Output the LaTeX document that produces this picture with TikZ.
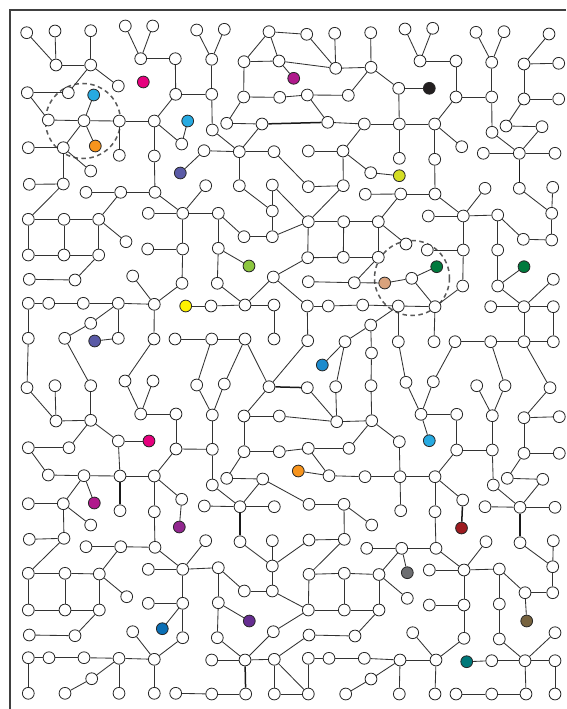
\documentclass[tikz,border=0pt]{standalone}
\definecolor{edgec}{HTML}{333333}
\definecolor{pinkc}{HTML}{E6007E}
\definecolor{magc}{HTML}{B0198C}
\definecolor{skyc}{HTML}{27AAE1}
\definecolor{bluec}{HTML}{1C8BCD}
\definecolor{dbluec}{HTML}{0B6FB5}
\definecolor{orangec}{HTML}{F7941D}
\definecolor{slatec}{HTML}{5A5AA6}
\definecolor{purpc}{HTML}{92278F}
\definecolor{dpurpc}{HTML}{662D91}
\definecolor{blackc}{HTML}{231F20}
\definecolor{ygc}{HTML}{D4DE24}
\definecolor{greenc}{HTML}{8CC63F}
\definecolor{yellowc}{HTML}{FFF200}
\definecolor{dgreenc}{HTML}{007A3D}
\definecolor{tanc}{HTML}{D9A27C}
\definecolor{dredc}{HTML}{9E1B20}
\definecolor{grayc}{HTML}{6D6E71}
\definecolor{brownc}{HTML}{77633F}
\definecolor{tealc}{HTML}{00797A}
\tikzset{
  nd/.style={circle,draw=black!85,line width=0.8pt,fill=white,minimum size=11.8pt,inner sep=0pt},
  ed/.style={draw=edgec,line width=0.85pt},
  thk/.style={draw=black!90,line width=1.5pt},
  ring/.style={draw=black!65,line width=1.5pt,dash pattern=on 4.5pt off 3.5pt},
  framel/.style={draw=black!75,line width=1.1pt}
}
\begin{document}
\begin{tikzpicture}[x=1pt,y=-1pt]
\useasboundingbox (0,0) rectangle (566,709);
\fill[white] (0,0) rectangle (566,709);
\draw[framel] (566,10) -- (10,10) -- (10,709);
\draw[ring] (83,121) circle[radius=37.5];
\draw[ring] (412,278) circle[radius=37.5];
% upper nodes
\foreach \n/\x/\y in {u1/26.7/32.7, u2/55/31, u3/90.7/30.7, u4/125.3/26, u5/152.7/26, u6/196.7/30, u7/224.3/29.3, u8/269/31.7, u9/306.7/34.3, u10/334.7/33.3, u11/370.7/32.7, u12/405/29, u13/432.7/28.3, u14/476/32.3, u15/504/31.7, u16/549/34,
u17/56/65, u18/90.7/65, u19/140.7/58.7, u20/175.3/58.7, u21/211.7/59.3, u22/244/61.7, u23/279/61, u24/335.7/68.3, u25/371/67.3, u26/420/61, u27/456/61, u28/491.7/62.3, u29/524/64, u30/558.7/63.3,
u31/27.3/92.7, u32/68.3/92.7, u33/118.3/86, u34/175.7/94.3, u35/211.7/94.3, u36/243.7/97, u37/279.7/97.3, u38/307.3/95, u39/348.3/95.3, u40/398.7/88.3, u41/456/97, u42/491.7/97, u43/524/99, u44/558.7/99,
u45/48.3/120, u46/84/120.7, u47/119.3/121, u48/154.3/121, u49/226.7/123.3, u50/262/124, u51/212.3/130, u52/327.7/122.3, u53/364.3/124, u54/399.3/124, u55/434.7/124, u56/492/132.3, u57/506/126, u58/542/126.7,
u59/28.3/147.7, u60/63.3/147.7, u61/119.3/155.3, u62/154.3/156, u63/181.7/144, u64/204/150.7, u65/239.3/151.7, u66/274/151.7, u67/308.3/151, u68/343/151, u69/399.3/158.3, u70/434.7/159.3, u71/461.7/146.7, u72/483.3/153.3, u73/519.3/153.3, u74/555/153.3,
u75/90.7/171, u76/370.7/172.7, u77/29.3/184.3, u78/63.3/184, u79/86/192.3, u80/120.7/192.3, u81/155/192.3, u82/205.7/185.7, u83/239.3/185.7, u84/272.3/185, u85/308.3/186.7, u86/343.3/185.7, u87/365.3/194.3, u88/400.7/194, u89/435/194, u90/485/188.3, u91/519.3/188.3, u92/552.7/187.3,
u93/28.3/219.3, u94/64/219.3, u95/98.7/219.3, u96/148.3/213.3, u97/182.7/213.3, u98/218.3/213.3, u99/272.3/211, u100/308.3/221.7, u101/343.7/221.7, u102/378.3/221.7, u103/428.3/216, u104/463.3/216, u105/497.7/215, u106/551.7/213.3,
u107/126/241.7, u108/244/236.7, u109/272.3/236.7, u110/406/244, u111/523.3/239.3, u112/551.7/240, u113/28.3/255, u114/64/255, u115/98.7/255, u116/147.7/249, u117/182.7/249, u118/218.3/248.3, u119/307.7/257.7, u120/343.3/257.3, u121/378.3/257.3, u122/427.3/250, u123/463.3/250, u124/497.7/250,
u125/29.3/279.3, u126/75/280, u127/132.7/276, u128/182/283.3, u129/217.3/283.3, u130/273.3/277, u131/308.3/281.7, u132/354.3/282.7, u133/411.7/278.3, u134/462.7/286, u135/497.7/286, u136/553.3/279.3,
u137/28.3/303.3, u138/48.7/303.3, u139/83.3/303.3, u140/118.3/303.3, u141/154.3/304.3, u142/211/306, u143/245/305, u144/274/305, u145/307.3/306, u146/328.3/306, u147/362.7/305, u148/398.3/306, u149/435/306.7, u150/490.7/306.7, u151/524/306.7, u152/553.3/306.7, u153/90.7/323.3, u154/370.7/325,
u155/28.3/338.3, u156/64.7/338.3, u157/118.3/338.3, u158/154/339, u159/175/339, u160/211.7/339, u161/245/339, u162/274/339, u163/307.7/340.7, u164/345/341.7, u165/398.3/341.7, u166/434/341.7, u167/455/341.7, u168/490.7/341.7, u169/524/341.7, u170/553.3/341.7, u171/371.5/353}
  \node[nd] (\n) at (\x,\y) {};
% lower nodes
\foreach \n/\x/\y in {l1/27/387.7, l2/55/385.7, l3/90.7/385.7, l4/125/381, l5/153/381, l6/196.7/385, l7/224.3/384, l8/269/386.7, l9/307.3/387.7, l10/335.7/386.7, l11/371/385.7, l12/406/382.3, l13/433.3/381.7, l14/476.7/385.7, l15/505/385.7, l16/550/387.7,
l17/56/421, l18/90.7/420.3, l19/140.7/414, l20/176/414, l21/212.3/415, l22/244/416, l23/279.3/416, l24/336.7/421.7, l25/371.7/420.7, l26/421/414.3, l27/456.7/414.3, l28/492.3/415.7, l29/524/417.7, l30/559.3/416.7,
l31/28.3/447.7, l32/69/447.7, l33/118.3/441, l34/176/449, l35/212.3/449.3, l36/244/451.7, l37/279.3/451.7, l38/308.3/448.3, l39/349/448.3, l40/399.3/441.7, l41/456.7/450, l42/492.3/450, l43/524/453.3, l44/559.3/453.3,
l45/48.3/475, l46/84/475.7, l47/120/476, l48/154.3/476, l49/226.7/478.3, l50/262.7/479, l51/329/475.7, l52/365/476.7, l53/400/476.7, l54/435/476.7, l55/507.3/478.3, l56/542.7/479.3, l57/212.3/485, l58/493.3/485,
l59/28.3/503.7, l60/63.3/503.7, l61/120/510.7, l62/154.3/511.7, l63/181.7/499.3, l64/204.3/506, l65/240/506.7, l66/274.3/506.7, l67/309/504.3, l68/344/504.3, l69/400.7/510.7, l70/435/511.7, l71/462.7/500, l72/485/506.7, l73/520/507.3, l74/555/507.3,
l75/90.7/525, l76/371.7/525, l77/29.3/539.3, l78/64/538.3, l79/86/546.7, l80/120.7/546.7, l81/155/547.3, l82/205.7/540.7, l83/240/541.7, l84/272.3/540.7, l85/309/540, l86/344.3/539.3, l87/366.7/548.3, l88/401.7/548.3, l89/436/548.3, l90/486/541.7, l91/520/542.7, l92/553.3/540.7,
l93/28.3/573.3, l94/65/573.3, l95/99.3/574, l96/148.3/569.3, l97/182.7/569.3, l98/218.3/567.7, l99/272.3/566, l100/309/574.3, l101/344.3/573.3, l102/379/574.5, l103/429.3/570, l104/464/570, l105/499.3/569, l106/552.7/566.7,
l107/126.7/596.7, l108/244.3/591, l109/272.3/591, l110/407.3/598.3, l111/525/592.7, l112/552.7/592.7, l113/28.3/610, l114/65/610, l115/99.3/610, l116/148.3/603.3, l117/182.7/603.3, l118/218.3/602.7, l119/308.3/610, l120/344.3/610, l121/379/610, l122/429.3/605, l123/464/605, l124/499.3/604,
l125/29.3/635, l126/75/635.7, l127/132.7/631.7, l128/182.7/637.7, l129/217.3/637.7, l130/273.3/631.7, l131/309/635, l132/355/636, l133/412.7/632.7, l134/464/638.3, l135/499.3/639, l136/555/632.7,
l137/28.3/657.7, l138/49/657.7, l139/84/657.7, l140/119/658.3, l141/154.3/659.3, l142/211.7/660, l143/245/660, l144/274.3/659.3, l145/308.3/658.3, l146/329/658.3, l147/364.3/658.3, l148/400/660, l149/436/660, l150/491.7/660.7, l151/525/660.7, l152/555/660.7, l153/91.7/678.7, l154/371/679,
l155/28.3/693.3, l156/65/693.3, l157/119/693.3, l158/154.3/693.3, l159/175.7/693.3, l160/211.7/694, l161/245.7/694, l162/274.3/694, l163/308.3/694, l164/345.7/694, l165/399.3/694, l166/435/694, l167/456/694, l168/491.7/694, l169/526/694, l170/555/694}
  \node[nd] (\n) at (\x,\y) {};
% coloured nodes
\foreach \n/\x/\y/\c in {m1/143.3/82/pinkc, m2/293.7/78.3/magc, b1/93.7/95/skyc, b2/187.7/121/skyc, o1/95.3/146/orangec, p1/180.3/173/slatec, k1/429.3/88.3/blackc, y1/399.3/175.7/ygc, g1/249/266/greenc, dg1/436.7/266.7/dgreenc, dg2/524/266.7/dgreenc, t1/384.7/283/tanc, yw/185.7/306/yellowc, p2/94.7/341/slatec,
lb1/322.3/365/bluec, lm1/149/441/pinkc, lb2/429.3/440.7/skyc, lo1/298.3/471/orangec, lm2/94.3/503/magc, lp1/179.3/527/purpc, dr/461.5/528/dredc, gr/407.3/572.7/grayc, lp2/249.3/621/dpurpc, br/526.7/621/brownc, lb3/162.3/628.7/dbluec, tl/466.7/661.7/tealc}
  \node[nd,fill=\c] (\n) at (\x,\y) {};
% upper edges
\foreach \a/\b in {u1/u17, u2/u17, u3/u18, u17/u18, u18/u32, u18/u33, u31/u32, u31/u45, u45/u46, u46/u47, u47/u48, u46/b1, u46/u60, u46/o1, u59/u60, u60/u75, u60/u78, u47/u61, u48/u62, u4/u19, u5/u19, u19/u20, u20/u34, u34/u48, u48/u63, u63/b2, u34/u35, u6/u21, u7/u21, u21/u35, u35/u51, u8/u9, u8/u22, u8/u23, u22/u23, u23/u24, u23/m2, u9/u24, u10/u24, u24/u25, u11/u25, u25/u39, u25/u40, u22/u36, u36/u37, u37/u38, u38/u39, u38/u52, u36/u49, u49/u50, u52/u53, u53/u54, u50/u65, u51/u65, u64/u65, u65/u66, u65/u83, u66/u85, u67/u68, u68/u53, u68/u76, u68/u86, u40/k1, u40/u54, u54/u55, u54/u69, u12/u26, u13/u26, u26/u27, u27/u41, u41/u42, u41/u55, u55/u71, u55/u70, u70/u89, u14/u28, u15/u28, u28/u42, u42/u56, u56/u73, u72/u73, u73/u74, u73/u58, u57/u58, u57/u43, u29/u43, u29/u16, u29/u30, u43/u44, u76/y1, p1/u64,
u77/u78, u78/u93, u79/u80, u80/u81, u80/u95, u62/u81, u81/u97, u97/u82, u96/u97, u97/u117, u116/u117, u117/u128, u128/u141, u127/u141, u141/u140, u141/u158, u93/u94, u94/u95, u93/u113, u94/u114, u95/u115, u95/u107, u113/u114, u114/u115, u115/u126, u125/u126, u137/u138, u138/u139, u139/u140, u137/u155, u140/u153, u153/u156, u140/u157, p2/u157, u159/u160, yw/u142,
u83/u99, u84/u99, u84/u100, u86/u100, u85/u86, u87/u88, u97/u98, u98/u108, u108/u109, u99/u109, u109/u100, u98/u118, u118/g1, u118/u129, u129/u143, u143/u130, u130/u119, u130/u145, u100/u101, u101/u102, u100/u119, u101/u120, u102/u121, u119/u120, u120/u121, u131/u132, u132/u121, u132/t1, u142/u143, u143/u144, u144/u162, u145/u146, u146/u147, u147/u148, u145/u163, u154/u164, u154/u171, u160/u161, u88/u89, u88/u102, u89/u104, u103/u104, u104/u90, u104/u105, u104/u123, u122/u123, u123/u134, u134/u149, u105/u124, u105/u111, u111/u112, u106/u112, u106/u92, u91/u106, u102/u110, u124/u135, u135/dg2, u135/u151, u150/u151, u151/u152, u136/u151, u151/u169, u152/u170, u169/u170, u168/u169, t1/u133, u133/dg1, u133/u149, u148/u149, u148/u165, u149/u166, u148/u154, u167/u168}
  \draw[ed] (\a) -- (\b);
% cross edges
\foreach \a/\b in {u155/l1, u156/l3, u158/l4, u160/l6, u161/l7, u161/l8, u163/l8, u164/lb1, u164/l10, u171/l11, u165/l12, u167/l13, u168/l15, u169/l16}
  \draw[ed] (\a) -- (\b);
% lower edges
\foreach \a/\b in {l1/l17, l2/l17, l3/l18, l17/l18, l18/l32, l18/l33, l33/lm1, l33/l47, l31/l32, l31/l45, l45/l46, l46/l47, l47/l48, l46/l60, l46/lm2, l48/l62, l48/l34, l48/l63, l63/lp1, l34/l20, l19/l20, l4/l19, l5/l19, l59/l60, l60/l75, l60/l78,
l6/l21, l7/l21, l21/l35, l35/l34, l35/l57, l57/l65, l64/l65, l65/l66, l65/l50, l49/l50, l49/l36, l36/l22, l36/l37, l37/l38, l38/l39, l38/l51, lo1/l51, l51/l52, l52/l53, l39/l25, l22/l23, l23/l24, l24/l25, l24/l9, l24/l10, l8/l22, l50/l67, l67/l68, l68/l76, l68/l86, l11/l25, l25/l40, l40/l53, l53/l54, l53/l69, l54/l41, l54/l70, l41/l42, l26/l27, l12/l26, l13/l26, l26/lb2, l27/l41, l14/l28, l15/l28, l28/l42, l42/l58, l58/l73, l72/l73, l73/l74, l73/l56, l55/l56, l55/l43, l43/l29, l29/l30, l29/l16, l43/l44, l54/l71, l70/l89,
l62/l81, l77/l78, l78/l93, l79/l80, l80/l81, l80/l95, l81/l97, l96/l97, l97/l82, l97/l98, l97/l117, l116/l117, l117/lb3, l117/l128, l128/l141, l127/l141, l140/l141, l141/l158, l93/l94, l94/l95, l93/l113, l94/l114, l95/l115, l95/l107, l113/l114, l114/l115, l115/l126, l125/l126, l137/l138, l138/l139, l139/l140, l137/l155, l140/l153, l153/l156, l140/l157, l159/l160,
l83/l99, l84/l99, l99/l85, l85/l86, l99/l109, l98/l108, l108/l109, l109/l119, l98/l118, l118/lp2, l118/l129, l129/l143, l143/l130, l130/l119, l142/l143, l143/l144, l144/l163, l144/l162, l144/l131, l131/l132, l132/l121, l145/l146, l146/l147, l145/l163, l162/l163, l160/l161, l164/l154, l100/l101, l101/l102, l100/l86, l100/l119, l101/l120, l102/l121, l119/l120, l120/l121, l87/l88, l88/l89, l88/gr, l88/l102, l102/l110, l89/l104, l103/l104, l104/l90, l104/l105, l104/l123, l122/l123, l123/l134, l134/l149, l133/l149, l148/l149, l147/l148, l148/l165, l148/l154, l149/l166, l105/l124, l105/l111, l111/l112, l106/l112, l92/l106, l91/l106, l111/br, l124/l135, l135/l151, tl/l150, l150/l151, l151/l152, l151/l136, l151/l169, l152/l170, l167/l168, l168/l169}
  \draw[ed] (\a) -- (\b);
% thick edges
\foreach \a/\b in {u50/u52, u73/u91, l8/l9, l47/l61, l65/l83, l71/dr, l73/l91, l143/l161}
  \draw[thk] (\a) -- (\b);
\end{tikzpicture}
\end{document}
